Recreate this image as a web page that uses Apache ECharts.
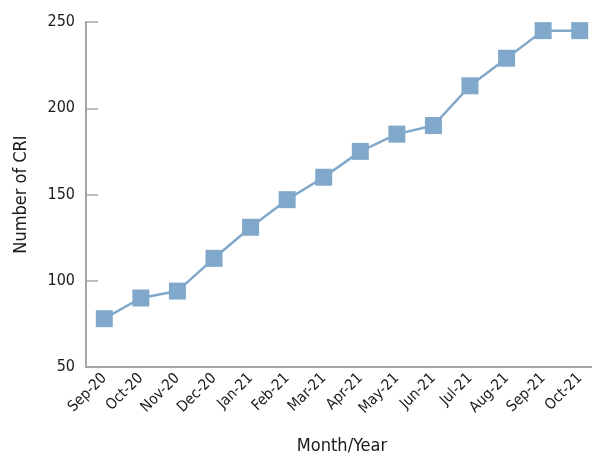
<!DOCTYPE html>
<html>
<head>
<meta charset="utf-8">
<script src="https://cdn.jsdelivr.net/npm/echarts@6/dist/echarts.min.js"></script>
<style>
  html, body { margin: 0; padding: 0; background: #ffffff; }
  #chart { width: 592px; height: 457px; }
</style>
</head>
<body>
<div id="chart"></div>
<script>
// Monthly count of CRI, Sep 2020 – Oct 2021
const months = ['Sep-20', 'Oct-20', 'Nov-20', 'Dec-20', 'Jan-21', 'Feb-21', 'Mar-21',
                'Apr-21', 'May-21', 'Jun-21', 'Jul-21', 'Aug-21', 'Sep-21', 'Oct-21'];
const criCounts = [78, 90, 94, 113, 131, 147, 160, 175, 185, 190, 213, 229, 245, 245];

const FONT = '"DejaVu Sans Condensed", "Liberation Sans Narrow", "Roboto", sans-serif';
const AXIS_GREY = '#a6a6a6';
const LINE_BLUE = '#80a8cb';
const TEXT = '#1a1a1a';

const chart = echarts.init(document.getElementById('chart'), null, { renderer: 'canvas' });

chart.setOption({
  animation: false,
  textStyle: { fontFamily: FONT },
  grid: { left: 86, top: 22, right: -6, bottom: 90, containLabel: false, outerBoundsMode: 'none' },
  xAxis: {
    type: 'category',
    data: months,
    boundaryGap: true,
    name: 'Month/Year',
    nameLocation: 'middle',
    nameGap: 70,
    nameTextStyle: { fontFamily: FONT, fontSize: 18, color: TEXT },
    axisLine: { lineStyle: { color: AXIS_GREY, width: 2 } },
    axisTick: { inside: true, length: 8, lineStyle: { color: AXIS_GREY, width: 1.5 } },
    axisLabel: { rotate: 45, margin: 9, fontFamily: FONT, fontSize: 15, color: TEXT, interval: 0 },
    splitLine: { show: false }
  },
  yAxis: {
    type: 'value',
    min: 50,
    max: 250,
    interval: 50,
    name: 'Number of CRI',
    nameLocation: 'middle',
    nameGap: 56,
    nameTextStyle: { fontFamily: FONT, fontSize: 18, color: TEXT },
    axisLine: { show: true, lineStyle: { color: AXIS_GREY, width: 2 } },
    axisTick: { show: true, inside: true, length: 12, lineStyle: { color: AXIS_GREY, width: 1.5 } },
    axisLabel: { margin: 11, fontFamily: FONT, fontSize: 16, color: TEXT },
    splitLine: { show: false }
  },
  series: [{
    type: 'line',
    data: criCounts,
    symbol: 'rect',
    symbolSize: 17,
    itemStyle: { color: LINE_BLUE },
    lineStyle: { color: LINE_BLUE, width: 2.5 }
  }]
});
</script>
</body>
</html>
